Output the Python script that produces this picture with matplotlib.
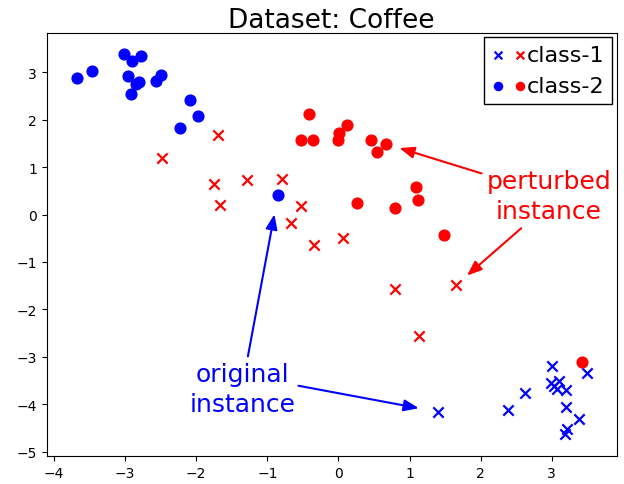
"""Scatter of class-1 / class-2 points for the Coffee dataset with
original and perturbed instances annotated."""

import matplotlib
matplotlib.use("Agg")
import matplotlib.pyplot as plt
from matplotlib.legend_handler import HandlerTuple


# class-1 (x markers), original data in blue
c1_orig_x = [3.00, 3.50, 2.62, 2.39, 2.99, 3.10, 3.07, 3.20, 3.20, 3.38, 3.22, 3.19, 3.03, 1.40]
c1_orig_y = [-3.20, -3.35, -3.76, -4.13, -3.55, -3.51, -3.68, -3.69, -4.06, -4.32, -4.52, -4.63, -3.61, -4.16]

# class-1 perturbed, red
c1_pert_x = [-1.69, -2.48, -1.75, -1.29, -0.80, -1.66, -0.53, -0.67, -0.34, 0.06, 0.80, 1.66, 1.13]
c1_pert_y = [1.68, 1.20, 0.65, 0.73, 0.74, 0.20, 0.17, -0.18, -0.64, -0.50, -1.57, -1.48, -2.56]

# class-2 (circles), original data in blue
c2_orig_x = [-3.67, -3.46, -3.02, -2.90, -2.77, -2.96, -2.85, -2.80, -2.92, -2.56, -2.49,
             -2.08, -1.97, -2.23, -0.85]
c2_orig_y = [2.88, 3.02, 3.38, 3.24, 3.35, 2.92, 2.75, 2.79, 2.55, 2.82, 2.95,
             2.41, 2.08, 1.83, 0.41]

# class-2 perturbed, red
c2_pert_x = [-0.41, -0.53, -0.36, 0.12, 0.01, -0.01, 0.46, 0.67, 0.54, 1.09, 1.12, 0.26, 0.79, 1.49, 3.43]
c2_pert_y = [2.13, 1.57, 1.58, 1.88, 1.71, 1.57, 1.58, 1.49, 1.32, 0.58, 0.31, 0.24, 0.14, -0.43, -3.10]

orig_c2_point = (-0.85, 0.41)
orig_c1_point = (1.40, -4.16)
pert_c2_point = (0.67, 1.49)
pert_c1_point = (1.66, -1.48)

fig = plt.figure(figsize=(6.24, 4.85), dpi=100)
ax = fig.add_axes([0.075, 0.057, 0.913, 0.873])

x1b = ax.scatter(c1_orig_x, c1_orig_y, marker="x", color="blue", s=55, linewidths=1.6)
x1r = ax.scatter(c1_pert_x, c1_pert_y, marker="x", color="red", s=55, linewidths=1.6)
o2b = ax.scatter(c2_orig_x, c2_orig_y, marker="o", color="blue", s=60)
o2r = ax.scatter(c2_pert_x, c2_pert_y, marker="o", color="red", s=60)

ax.set_xlim(-4.1, 3.91)
ax.set_ylim(-5.1, 3.83)
ax.set_xticks(range(-4, 4))
ax.set_yticks(range(-5, 4))
ax.tick_params(labelsize=10)
ax.set_title("Dataset: Coffee", fontsize=19, pad=4)

leg = ax.legend(
    [(x1b, x1r), (o2b, o2r)],
    ["class-1", "class-2"],
    handler_map={tuple: HandlerTuple(ndivide=None, pad=0.5)},
    loc="upper right",
    fontsize=16,
    markerscale=0.75,
    fancybox=False,
    framealpha=1,
    edgecolor="black",
    handlelength=1.5,
    handletextpad=0.05,
    borderpad=0.35,
    labelspacing=0.5,
    borderaxespad=0.2,
)

blue_arrow = dict(arrowstyle="-|>,head_length=0.9,head_width=0.35", color="blue", lw=1.5, shrinkA=2, shrinkB=14)
red_arrow = dict(arrowstyle="-|>,head_length=0.9,head_width=0.35", color="red", lw=1.5, shrinkA=2, shrinkB=10)

ax.text(-1.35, -3.68, "original\ninstance", color="blue", fontsize=18, ha="center", va="center",
        linespacing=1.3)
ax.annotate("", xy=orig_c2_point, xytext=(-1.28, -3.05), arrowprops=blue_arrow)
ax.annotate("", xy=orig_c1_point, xytext=(-0.6, -3.6), arrowprops=blue_arrow)

ax.text(2.96, 0.39, "perturbed\ninstance", color="red", fontsize=18, ha="center", va="center",
        linespacing=1.3)
ax.annotate("", xy=pert_c2_point, xytext=(2.05, 0.85), arrowprops=red_arrow)
ax.annotate("", xy=pert_c1_point, xytext=(2.6, -0.25), arrowprops=red_arrow)

fig.savefig("out.png", dpi=100)
